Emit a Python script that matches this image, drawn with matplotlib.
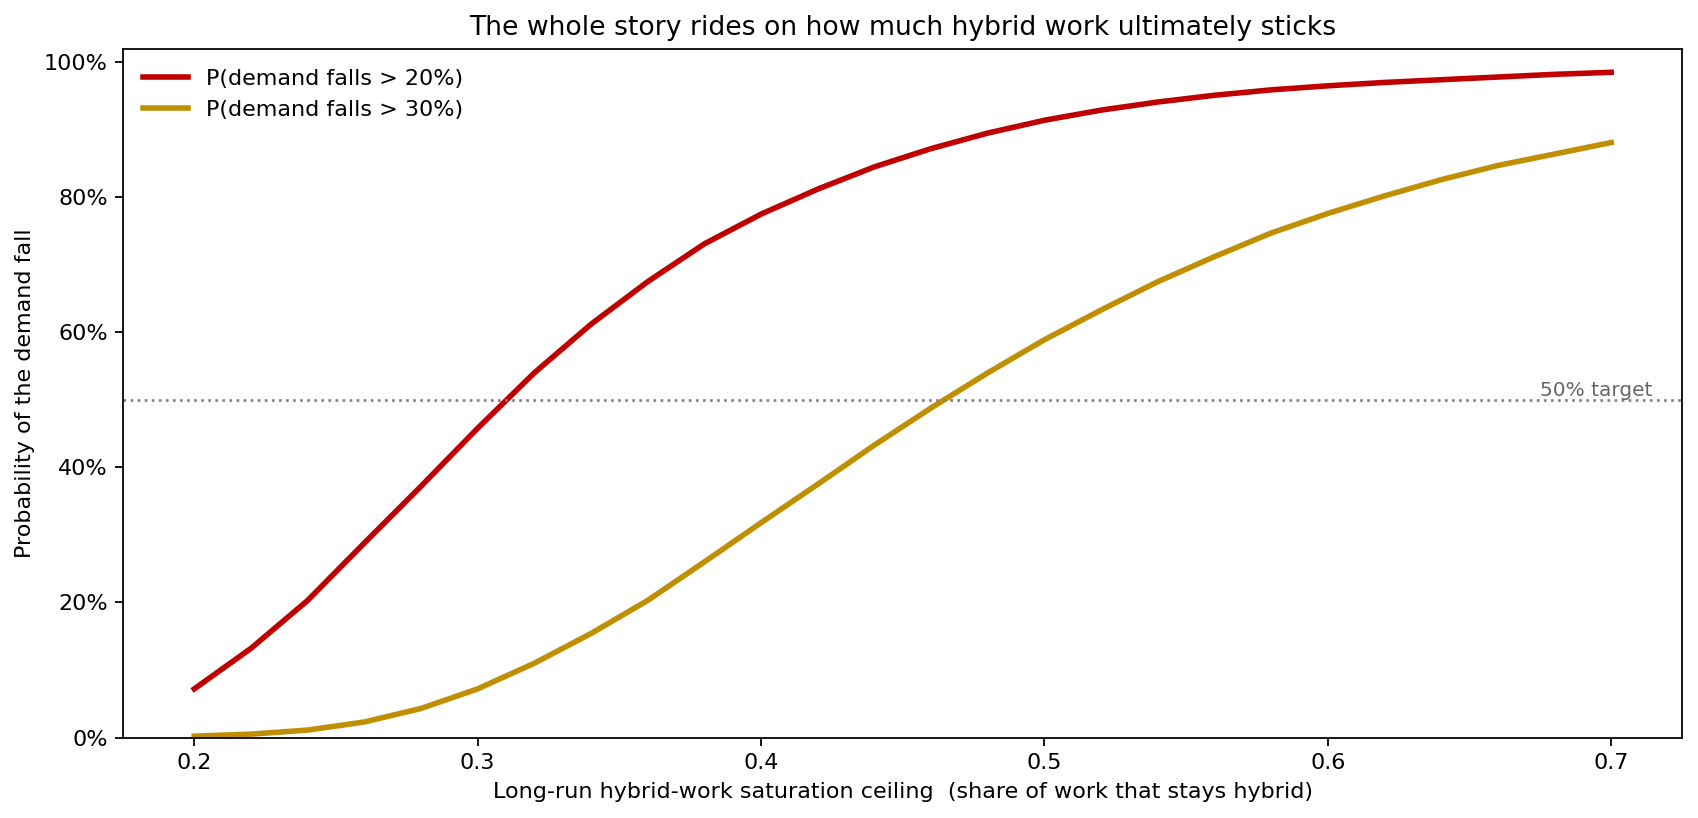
import numpy as np
import matplotlib
matplotlib.use("Agg")
import matplotlib.pyplot as plt
from matplotlib.ticker import PercentFormatter
import matplotlib.transforms as mtransforms

# saturation ceiling grid (x axis)
ceiling = [0.20, 0.22, 0.24, 0.26, 0.28, 0.30, 0.32, 0.34, 0.36, 0.38,
           0.40, 0.42, 0.44, 0.46, 0.48, 0.50, 0.52, 0.54, 0.56, 0.58,
           0.60, 0.62, 0.64, 0.66, 0.68, 0.70]

# probability demand falls more than 20% / 30%
p_fall_20 = [0.072, 0.132, 0.203, 0.288, 0.372, 0.458, 0.540, 0.612, 0.675, 0.731,
             0.775, 0.812, 0.845, 0.872, 0.895, 0.914, 0.929, 0.941, 0.951, 0.959,
             0.965, 0.970, 0.974, 0.978, 0.982, 0.985]
p_fall_30 = [0.002, 0.005, 0.011, 0.023, 0.043, 0.072, 0.110, 0.154, 0.203, 0.260,
             0.318, 0.375, 0.433, 0.488, 0.540, 0.589, 0.633, 0.675, 0.712, 0.747,
             0.776, 0.802, 0.826, 0.847, 0.864, 0.881]

series_labels = ["P(demand falls > 20%)", "P(demand falls > 30%)"]
target = 0.5

fig, ax = plt.subplots(figsize=(10.6125, 5.1125), dpi=160)
fig.subplots_adjust(left=0.0727, right=0.9906, top=0.9405, bottom=0.0984)

ax.plot(ceiling, p_fall_20, color="#c00000", lw=2.5, label=series_labels[0])
ax.plot(ceiling, p_fall_30, color="#bf8f00", lw=2.5, label=series_labels[1])

# 50% reference line
ax.axhline(target, color="gray", ls=":", lw=1.2)
trans = mtransforms.blended_transform_factory(ax.transAxes, ax.transData)
ax.text(0.981, target, "50% target", transform=trans, ha="right", va="bottom",
        fontsize=9, color="#666666")

ax.set_ylim(0, 1.02)
ax.yaxis.set_major_formatter(PercentFormatter(1.0, decimals=0))
ax.set_xlabel("Long-run hybrid-work saturation ceiling  (share of work that stays hybrid)")
ax.set_ylabel("Probability of the demand fall")
ax.set_title("The whole story rides on how much hybrid work ultimately sticks", fontsize=12)
ax.legend(loc="upper left", frameon=False, fontsize=10)

fig.savefig("out.png", dpi=160)
